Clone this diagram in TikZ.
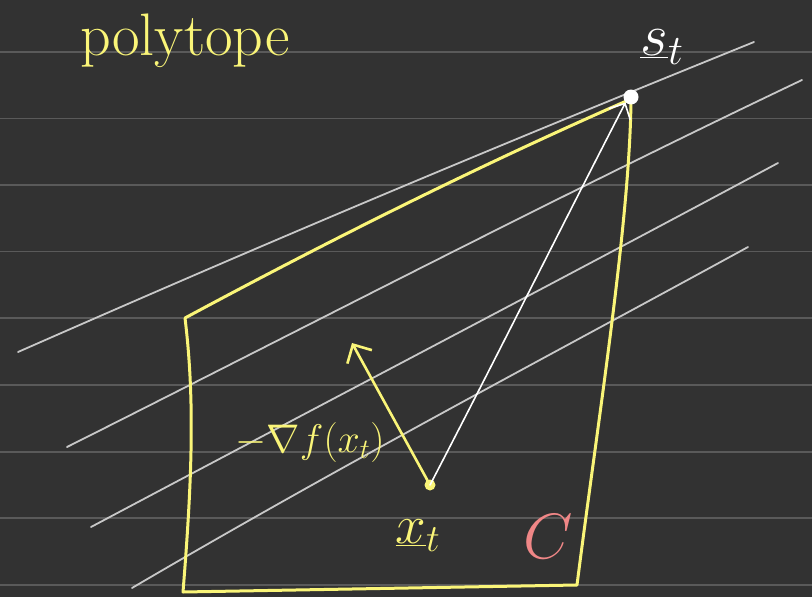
\RequirePackage{fix-cm}
\documentclass[tikz,border=0pt]{standalone}
\usetikzlibrary{arrows.meta}
\definecolor{bg}{RGB}{50,50,50}
\definecolor{rule}{RGB}{90,90,90}
\definecolor{level}{RGB}{200,200,200}
\definecolor{hand}{RGB}{250,245,120}
\definecolor{pinkc}{RGB}{240,135,135}
\tikzset{
  ruleline/.style={draw=rule, line width=1.6pt},
  levelline/.style={draw=level, line width=1.8pt, line cap=round},
  polyedge/.style={draw=hand, line width=3pt, line cap=round, line join=round},
  handtext/.style={text=hand, inner sep=0pt},
  gradarrow/.style={draw=hand, line width=2.6pt, line cap=round, -{Straight Barb[length=14pt,width=28pt,line width=2.6pt]}},
  steparrow/.style={draw=white, line width=1.6pt, line cap=round, -{Straight Barb[length=12pt,width=24pt,line width=1.6pt]}},
}
\begin{document}
\begin{tikzpicture}[x=1pt,y=-1pt]
\fill[bg] (0,0) rectangle (812,597);
\useasboundingbox (0,0) rectangle (812,597);
% ruled lines
\foreach \yy in {52,118.5,185,251.5,318,385,452,518,585}
  \draw[ruleline] (0,\yy) -- (812,\yy);
% level lines
\draw[levelline] (18,352) .. controls (250,250) and (450,165) .. (754,42);
\draw[levelline] (67,447) .. controls (300,330) and (550,200) .. (802,80);
\draw[levelline] (91,527) .. controls (330,400) and (560,280) .. (778,163);
\draw[levelline] (132,588) .. controls (350,460) and (560,350) .. (748,247);
% polytope
\coordinate (tl) at (185,318);
\coordinate (tr) at (631,99);
\coordinate (br) at (577,585);
\coordinate (bl) at (183,592);
\draw[polyedge] (tl) .. controls (330,240) and (480,165) .. (tr)
  .. controls (630,220) and (598,420) .. (br)
  -- (bl)
  .. controls (192,480) and (195,400) .. (tl);
% points
\node[circle, fill=white, minimum size=15pt, inner sep=0pt] (st) at (631,97) {};
\node[circle, fill=hand, minimum size=11pt, inner sep=0pt] (xt) at (430,485) {};
\coordinate (gtip) at (352,343);
% arrows
\draw[gradarrow] (xt.center) -- (gtip);
\draw[steparrow] (xt.center) .. controls (490,370) and (570,210) .. (st.south west);
% labels
\node[handtext, anchor=base west, font=\fontsize{60}{64}\selectfont] (title) at (80,55) {polytope};
\node[text=white, inner sep=0pt, anchor=base, font=\fontsize{60}{64}\selectfont] (stlabel) at (662,56) {$\underline{s}_t$};
\node[handtext, font=\fontsize{40}{44}\selectfont] (glabel) at (310,442) {$-\nabla f(x_t)$};
\node[handtext, font=\fontsize{55}{60}\selectfont] (xlabel) at (418,536) {$\underline{x}_t$};
\node[text=pinkc, inner sep=0pt, font=\fontsize{64}{68}\selectfont] (clabel) at (548,537) {$C$};
\end{tikzpicture}
\end{document}
